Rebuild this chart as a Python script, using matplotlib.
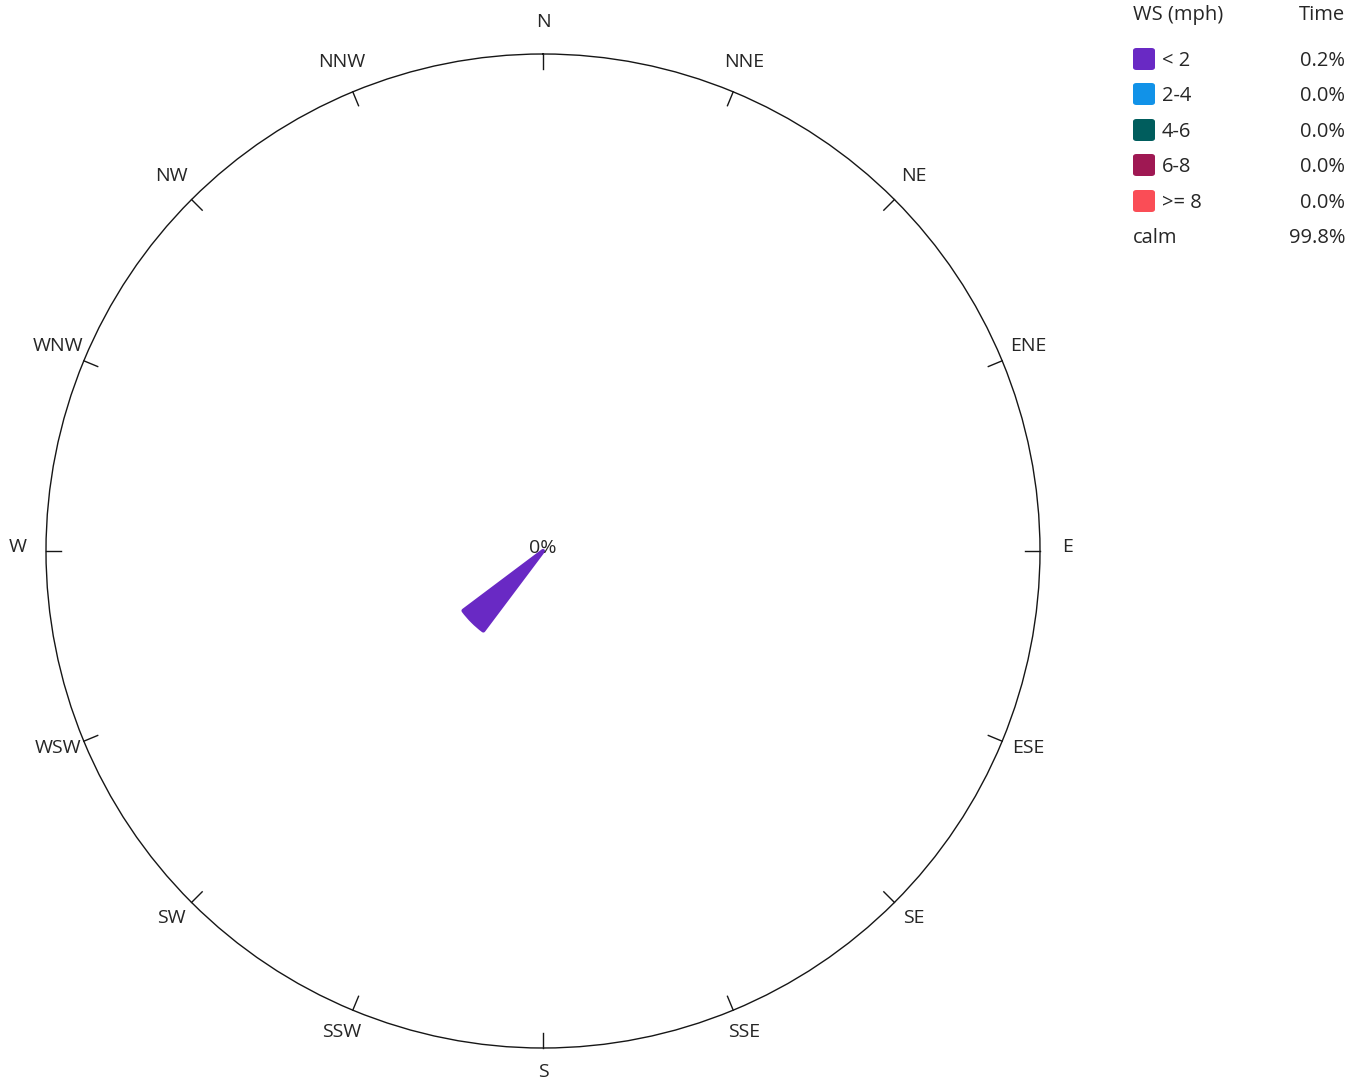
import matplotlib.pyplot as plt
import numpy as np
from matplotlib.patches import FancyBboxPatch

plt.rcParams['font.family'] = ['Open Sans', 'DejaVu Sans']

# Data
directions = ['N', 'NNE', 'NE', 'ENE', 'E', 'ESE', 'SE', 'SSE',
              'S', 'SSW', 'SW', 'WSW', 'W', 'WNW', 'NW', 'NNW']
bins = ['< 2', '2-4', '4-6', '6-8', '>= 8']
bin_colors = ['#6929c4', '#1192e8', '#005d5d', '#9f1853', '#fa4d56']
bin_share = [0.2, 0.0, 0.0, 0.0, 0.0]   # percent of time
calm_share = 99.8
# frequency (%) per direction for the "< 2" bin, only SW has data
freq_lt2 = [0, 0, 0, 0, 0, 0, 0, 0, 0, 0, 0.2, 0, 0, 0, 0, 0]
r_max = 1.0

text_color = '#262626'

fig = plt.figure(figsize=(13.64, 10.83), dpi=100)
W, H = 1364, 1083
cx, cy, R = 543, 551, 497
ax = fig.add_axes([(cx - R) / W, (H - cy - R) / H, 2 * R / W, 2 * R / H], projection='polar')
ax.set_theta_zero_location('N')
ax.set_theta_direction(-1)
ax.set_ylim(0, r_max)
ax.grid(False)
ax.set_xticks([])
ax.set_yticks([])
ax.spines['polar'].set_linewidth(1.0)
ax.spines['polar'].set_color('#161616')

angles = np.deg2rad(np.arange(16) * 22.5)

# wedges
width = np.deg2rad(22.5 * 0.72)
ax.bar(angles, freq_lt2, width=width, bottom=0, color=bin_colors[0],
       edgecolor=bin_colors[0], linewidth=3, joinstyle='round', zorder=3)


def fy(y):
    # pixel row -> figure fraction (small nudge for text baseline)
    return 1 - (y + 2) / H


# direction ticks and labels
tick_len = 15 / R * r_max
label_r = 525
for a, lab in zip(angles, directions):
    ax.plot([a, a], [r_max - tick_len, r_max], color='#161616', lw=1.0, clip_on=False)
    px = cx + label_r * np.sin(a)
    py = cy - label_r * np.cos(a) - 6
    fig.text(px / W, fy(py), lab, ha='center', va='center', fontsize=14, color=text_color)

fig.text(cx / W, fy(546), '0%', ha='center', va='center', fontsize=14, color=text_color)

# legend table
fs = 14.5
fig.text(1133 / W, fy(13), 'WS (mph)', ha='left', va='center', fontsize=fs, color=text_color)
fig.text(1345 / W, fy(13), 'Time', ha='right', va='center', fontsize=fs, color=text_color)
rows_y = [59, 94, 130, 165, 201]
for y, lab, col, val in zip(rows_y, bins, bin_colors, bin_share):
    box = FancyBboxPatch((1133 / W, 1 - (y + 11) / H), 22 / W, 22 / H,
                         boxstyle='round,pad=0,rounding_size=0.0025',
                         transform=fig.transFigure, facecolor=col, edgecolor='none')
    fig.patches.append(box)
    fig.text(1162 / W, fy(y), lab, ha='left', va='center', fontsize=fs, color=text_color)
    fig.text(1345 / W, fy(y), f'{val:.1f}%', ha='right', va='center', fontsize=fs, color=text_color)
fig.text(1133 / W, fy(236), 'calm', ha='left', va='center', fontsize=fs, color=text_color)
fig.text(1345 / W, fy(236), f'{calm_share:.1f}%', ha='right', va='center', fontsize=fs, color=text_color)

fig.savefig('out.png', dpi=100)
